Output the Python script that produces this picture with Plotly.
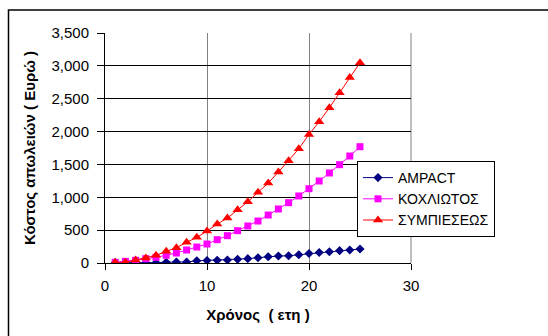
import plotly.graph_objects as go

years = list(range(1, 26))
ampact = [5, 3, 3, 3, 5, 12, 14, 15, 33, 38, 42, 46, 56, 66, 81, 96, 106, 110, 125, 145,
          160, 172, 188, 198, 213]
kochliotos = [10, 25, 41, 66, 86, 117, 152, 198, 243, 289, 355, 416, 492, 563, 639, 730,
              822, 918, 1020, 1131, 1248, 1370, 1496, 1628, 1770]
symp = [10, 10, 45, 76, 117, 177, 233, 314, 390, 487, 593, 684, 811, 933, 1075, 1217,
        1384, 1556, 1739, 1957, 2150, 2363, 2590, 2824, 3048]

names = ["AMPACT", "ΚΟΧΛΙΩΤΟΣ", "ΣΥΜΠΙΕΣΕΩΣ"]
colors = ["#000080", "#FF00FF", "#FF0000"]
symbols = ["diamond", "square", "triangle-up"]
sizes = [7, 7, 9]
series = [ampact, kochliotos, symp]

W, H = 548, 336
L, R, T, B = 105, 137, 33, 73
pw, ph = W - L - R, H - T - B

fig = go.Figure()
for n, c, s, sz, v in zip(names, colors, symbols, sizes, series):
    fig.add_trace(go.Scatter(x=years, y=v, name=n, mode="lines+markers",
                             line=dict(color=c, width=1),
                             marker=dict(symbol=s, size=sz, color=c)))

def px_x(p):
    return (p - L) / pw

def px_y(p):
    return (H - B - p) / ph

fig.update_layout(
    width=W, height=H,
    margin=dict(l=L, r=R, t=T, b=B),
    paper_bgcolor="white", plot_bgcolor="white",
    font=dict(family="Liberation Sans, Arial", size=13, color="black"),
    xaxis=dict(range=[0, 30], dtick=10, showgrid=True, gridcolor="#808080", gridwidth=1,
               showline=True, linecolor="black", linewidth=1, mirror=False,
               ticks="outside", ticklen=6, tickcolor="black", zeroline=False,
               ticklabelstandoff=3,
               title=dict(text="<b>Χρόνος  ( ετη )</b>", font=dict(size=15), standoff=16),
               tickfont=dict(size=15)),
    yaxis=dict(range=[0, 3500], dtick=500, tickformat=",", showgrid=True, gridcolor="black",
               gridwidth=1, showline=True, linecolor="black", linewidth=1,
               ticks="outside", ticklen=7, tickcolor="black", zeroline=False,
               ticklabelstandoff=5,
               title=dict(text="<b>Κόστος απωλειών ( Ευρώ )</b>", font=dict(size=15), standoff=12),
               tickfont=dict(size=15)),
    legend=dict(x=px_x(357), y=px_y(161), xanchor="left", yanchor="top",
                bgcolor="white", bordercolor="black", borderwidth=1,
                font=dict(size=14), itemwidth=30),
    showlegend=True,
)

# right edge of plot area (gray like vertical gridlines)
fig.add_shape(type="line", xref="paper", yref="paper", x0=1, x1=1, y0=0, y1=1,
              line=dict(color="#808080", width=1), layer="below")
# chart outer border
fig.add_shape(type="rect", xref="paper", yref="paper",
              x0=px_x(8.5), x1=px_x(W + 20), y0=px_y(H + 20), y1=px_y(10),
              line=dict(color="black", width=1.5), fillcolor="rgba(0,0,0,0)")

fig.write_html("out.html")
